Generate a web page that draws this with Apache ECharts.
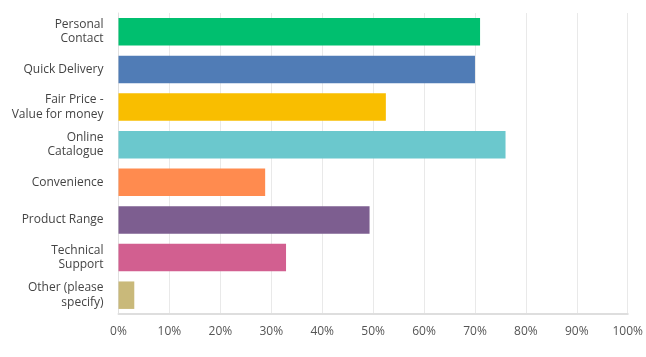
<!DOCTYPE html>
<html><head><meta charset="utf-8">
<script src="https://cdn.jsdelivr.net/npm/echarts@6/dist/echarts.min.js"></script>
<style>html,body{margin:0;padding:0;background:#fff}#c{width:646px;height:357px}</style>
</head><body><div id="c"></div>
<script>
const categories = ["Personal\nContact","Quick Delivery","Fair Price -\nValue for money","Online\nCatalogue","Convenience","Product Range","Technical\nSupport","Other (please\nspecify)"];
const values = [71.0, 70.0, 52.5, 76.0, 28.8, 49.3, 32.9, 3.1];
const colors = ["#00bf6f","#507cb6","#f9be00","#6bc8cd","#ff8b4f","#7d5e90","#d25f90","#c9b97a"];
const tickLabels = ["0%","10%","20%","30%","40%","50%","60%","70%","80%","90%","100%"];

const chart = echarts.init(document.getElementById('c'), null, {renderer:'canvas'});
chart.setOption({
  animation:false,
  grid:{left:118.5, right:18, top:13, bottom:43},
  xAxis:{type:'value', min:0, max:100, interval:10,
    axisLine:{show:true, lineStyle:{color:'#dedede', width:2}}, axisTick:{show:false},
    splitLine:{lineStyle:{color:'#e9e9e9', width:1}},
    axisLabel:{margin:12, color:'#555', fontFamily:'Open Sans', fontSize:12,
      formatter:(v)=>tickLabels[Math.round(v/10)]}},
  yAxis:{type:'category', data:categories, inverse:true,
    axisLine:{show:true, lineStyle:{color:'#e0e0e0', width:1}}, axisTick:{show:false},
    axisLabel:{margin:15, color:'#444', fontFamily:'Open Sans', fontSize:12, lineHeight:14.5, align:'right'}},
  series:[{type:'bar', barCategoryGap:'27%',
    data:values.map((v,i)=>({value:v, itemStyle:{color:colors[i]}}))}]
});
</script></body></html>
